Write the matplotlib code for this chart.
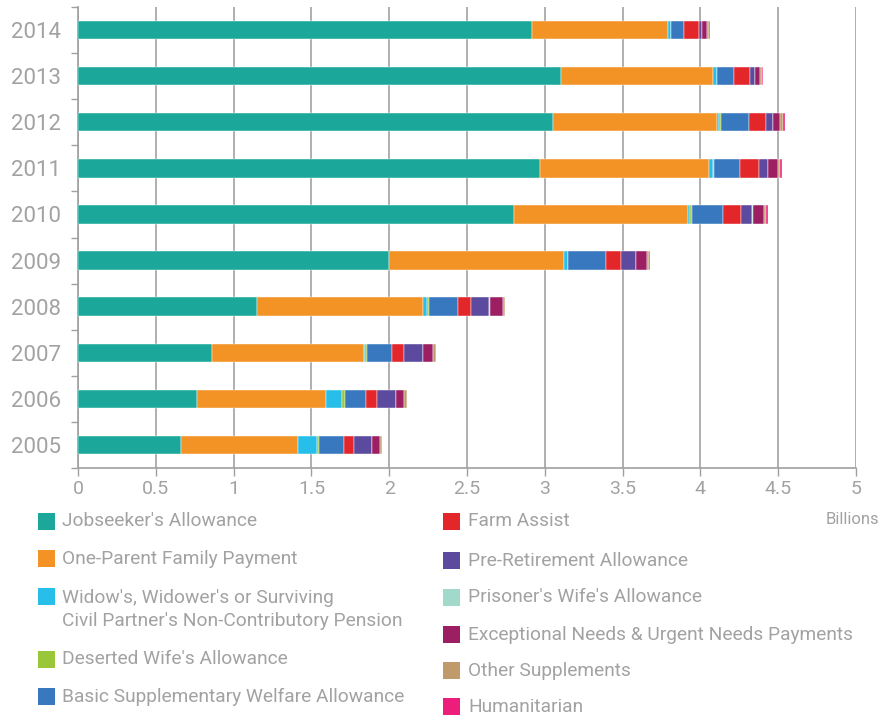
import matplotlib
matplotlib.use("Agg")
import matplotlib.pyplot as plt
from matplotlib.patches import Rectangle
import numpy as np

years = ["2005", "2006", "2007", "2008", "2009", "2010", "2011", "2012", "2013", "2014"]

series_names = [
    "Jobseeker's Allowance",
    "One-Parent Family Payment",
    "Widow's, Widower's or Surviving\nCivil Partner's Non-Contributory Pension",
    "Deserted Wife's Allowance",
    "Basic Supplementary Welfare Allowance",
    "Farm Assist",
    "Pre-Retirement Allowance",
    "Prisoner's Wife's Allowance",
    "Exceptional Needs & Urgent Needs Payments",
    "Other Supplements",
    "Humanitarian",
]

colors = ["#1BA89A", "#F39325", "#27BFE9", "#9AC63A", "#3878BF", "#E2262A",
          "#5B4A9E", "#A1DACB", "#9C1F63", "#C19A6B", "#ED1E7B"]

# values in billions, years 2005..2014
jobseekers = [0.662, 0.763, 0.863, 1.152, 1.999, 2.802, 2.969, 3.055, 3.104, 2.918]
one_parent = [0.754, 0.833, 0.972, 1.067, 1.125, 1.116, 1.089, 1.054, 0.979, 0.876]
widow = [0.122, 0.103, 0.011, 0.022, 0.024, 0.015, 0.026, 0.013, 0.021, 0.015]
deserted = [0.013, 0.015, 0.011, 0.012, 0.002, 0.011, 0.002, 0.009, 0.002, 0.001]
basic_supp = [0.161, 0.135, 0.159, 0.187, 0.246, 0.203, 0.171, 0.184, 0.107, 0.084]
farm_assist = [0.064, 0.075, 0.081, 0.086, 0.094, 0.116, 0.118, 0.107, 0.103, 0.094]
pre_retirement = [0.112, 0.118, 0.122, 0.118, 0.094, 0.071, 0.060, 0.043, 0.037, 0.022]
prisoners_wife = [0.001, 0.001, 0.001, 0.001, 0.001, 0.001, 0.001, 0.001, 0.001, 0.001]
exceptional = [0.055, 0.055, 0.064, 0.085, 0.069, 0.075, 0.062, 0.047, 0.028, 0.032]
other_supp = [0.011, 0.015, 0.015, 0.015, 0.015, 0.011, 0.013, 0.017, 0.015, 0.010]
humanitarian = [0.000, 0.000, 0.000, 0.000, 0.009, 0.011, 0.011, 0.011, 0.008, 0.009]

series = [jobseekers, one_parent, widow, deserted, basic_supp, farm_assist,
          pre_retirement, prisoners_wife, exceptional, other_supp, humanitarian]

x_ticks = [0, 0.5, 1, 1.5, 2, 2.5, 3, 3.5, 4, 4.5, 5]
x_tick_labels = ["0", "0.5", "1", "1.5", "2", "2.5", "3", "3.5", "4", "4.5", "5"]

FONT = ["Roboto", "DejaVu Sans"]
plt.rcParams["font.family"] = FONT
GREY_TXT = "#a2a2a2"
GREY_AX = "#a0a0a0"

W, H = 881, 718
fig = plt.figure(figsize=(W / 100, H / 100), dpi=100)
ax = fig.add_axes([78 / W, 1 - 468 / H, (856 - 78) / W, (468 - 7) / H])

ypos = np.arange(len(years))
left = np.zeros(len(years))
for vals, col in zip(series, colors):
    v = np.array(vals)
    ax.barh(ypos, v, left=left, height=0.4, color=col, edgecolor="white",
            linewidth=0.3, zorder=3)
    left += v

ax.set_xlim(0, 5)
ax.set_ylim(-0.5, len(years) - 0.5)
ax.set_xticks(x_ticks)
ax.set_xticklabels(x_tick_labels)
ax.set_yticks(ypos)
ax.set_yticklabels(years)
ax.set_yticks(np.arange(-0.5, len(years), 1.0), minor=True)

ax.tick_params(axis="y", which="major", length=0, pad=12, labelsize=16, labelcolor=GREY_TXT)
ax.tick_params(axis="y", which="minor", length=5, width=1, color=GREY_AX)
ax.tick_params(axis="x", which="major", length=6, width=1, color=GREY_AX,
               pad=3, labelsize=14, labelcolor=GREY_TXT)

ax.grid(axis="x", color="#9a9a9a", linewidth=1.1, zorder=1)
ax.set_axisbelow(True)
for s in ["top", "right"]:
    ax.spines[s].set_visible(False)
for s in ["left", "bottom"]:
    ax.spines[s].set_color(GREY_AX)
    ax.spines[s].set_linewidth(1.2)

# Legend (custom, figure pixel coords)
def px(x, y):
    return x / W, 1 - y / H

left_col = [(0, 521.5, 521.5), (1, 558.5, 558.5), (2, 596.5, 609.5), (3, 659.5, 659.5), (4, 696.5, 696.5)]
right_col = [(5, 521.5, 521.5), (6, 560.5, 560.5), (7, 597.5, 597.5), (8, 634.5, 634.5),
             (9, 670.5, 670.5), (10, 706.5, 706.5)]
sq = 17
for items, sx, tx in [(left_col, 38, 62), (right_col, 443, 468)]:
    for idx, yc, ytxt in items:
        x0, y0 = px(sx, yc + sq / 2)
        fig.patches.append(Rectangle((x0, y0), sq / W, sq / H, transform=fig.transFigure,
                                     facecolor=colors[idx], edgecolor="none"))
        tx_f, ty_f = px(tx, ytxt)
        fig.text(tx_f, ty_f, series_names[idx], ha="left", va="center",
                 fontsize=13.8, color=GREY_TXT, linespacing=1.3)

bx, by = px(879, 519)
fig.text(bx, by, "Billions", ha="right", va="center", fontsize=12, color=GREY_TXT)

fig.savefig("out.png", dpi=100)
